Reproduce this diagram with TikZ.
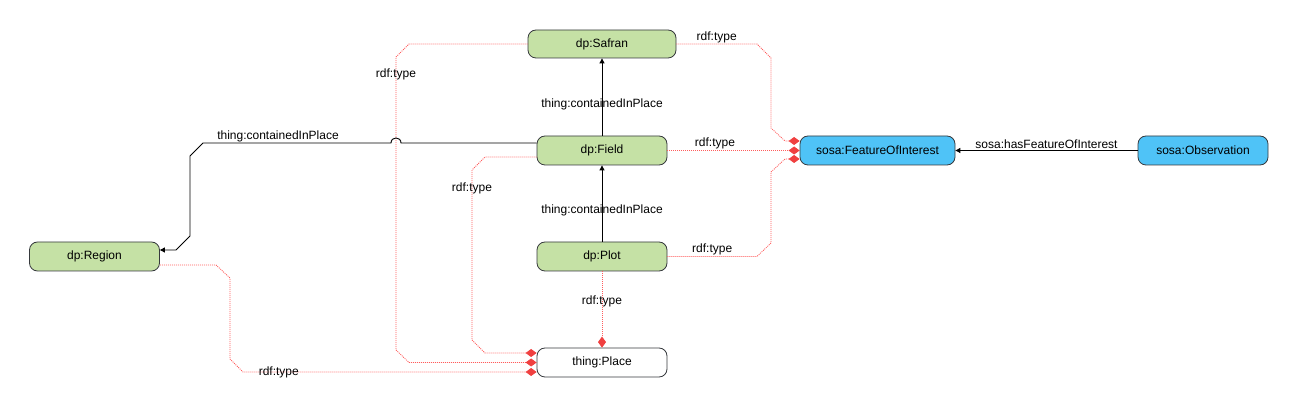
\documentclass[tikz,border=0pt]{standalone}
\usepackage{fontspec}
\setmainfont{Liberation Sans}
\usetikzlibrary{arrows.meta,calc}
\definecolor{grn}{HTML}{C5E1A5}
\definecolor{blu}{HTML}{4FC3F7}
\definecolor{bord}{HTML}{36393D}
\definecolor{redl}{HTML}{FF5C5C}
\definecolor{redd}{HTML}{F04040}
\tikzset{
  box/.style={draw=bord, line width=0.8pt, rounded corners=8pt, minimum width=130pt, minimum height=29pt, inner sep=0pt, font=\fontsize{12}{14}\selectfont},
  gnode/.style={box, fill=grn},
  bnode/.style={box, fill=blu},
  wnode/.style={box, fill=white},
  rel/.style={draw=black, line width=0.9pt, -{Triangle[length=5pt,width=5pt]}},
  typ/.style={draw=redl, dash pattern=on 1pt off 1pt, line width=0.8pt, -{Diamond[length=11pt,width=8pt,color=redd]}},
  lbl/.style={font=\fontsize{12}{14}\selectfont, inner sep=1pt, text=black},
}
\begin{document}
\begin{tikzpicture}[x=1pt,y=-1pt]
\useasboundingbox (0,0) rectangle (1299,411);
% nodes
\node[gnode, minimum width=148pt, minimum height=28pt] (safran) at (602,44) {dp:Safran};
\node[gnode] (field) at (602,150.5) {dp:Field};
\node[gnode] (plot) at (602,256.5) {dp:Plot};
\node[wnode] (place) at (602,362.5) {thing:Place};
\node[gnode] (region) at (94.5,256.5) {dp:Region};
\node[bnode, minimum width=155pt] (foi) at (877.5,150.5) {sosa:FeatureOfInterest};
\node[bnode] (obs) at (1203,150.5) {sosa:Observation};

% red rdf:type edges
\draw[typ] (safran.east) -- node[lbl, above] {rdf:type} (757,44) -- (771,58) -- (771,128) -- (785,141) -- ($(foi.west)+(0,-9.5)$);
\draw[typ] (field.east) -- node[lbl, above, pos=0.36] {rdf:type} (foi.west);
\draw[typ] (plot.east) -- node[lbl, above] {rdf:type} (757,256.5) -- (771,243) -- (771,172) -- (785,159) -- ($(foi.west)+(0,8.5)$);
\draw[typ] (safran.west) -- (409,44) -- (396,57) -- node[lbl, pos=0.06] {rdf:type} (396,350) -- (409,362.5) -- (place.west);
\draw[typ] ($(field.west)+(0,6.5)$) -- (485,157) -- (472,170) -- node[lbl, pos=0.106] {rdf:type} (472,340) -- (485,353) -- ($(place.west)+(0,-9.5)$);
\draw[typ] ($(region.east)+(0,8.5)$) -- (216,265) -- (230,278) -- (230,359) -- (243,372) -- node[lbl, pos=0.122] {rdf:type} ($(place.west)+(0,9.5)$);
\draw[typ] (plot.south) -- node[lbl, pos=0.4] {rdf:type} (place.north);

% black relation edges
\draw[rel] (field.north) -- node[lbl, pos=0.41] {thing:containedInPlace} (safran.south);
\draw[rel] (plot.north) -- node[lbl, pos=0.415] {thing:containedInPlace} (field.south);
\draw[rel] ($(field.west)+(0,-7.5)$) -- (401,143) .. controls (401,136.3) and (391,136.3) .. (391,143) -- (203,143) -- (190,156) -- (190,236) -- (176,250) -- ($(region.east)+(0,-6.5)$);
\node[lbl] (cipl) at (278,136.5) {thing:containedInPlace};
\draw[rel] (obs.west) -- node[lbl, above] {sosa:hasFeatureOfInterest} (foi.east);
\end{tikzpicture}
\end{document}
